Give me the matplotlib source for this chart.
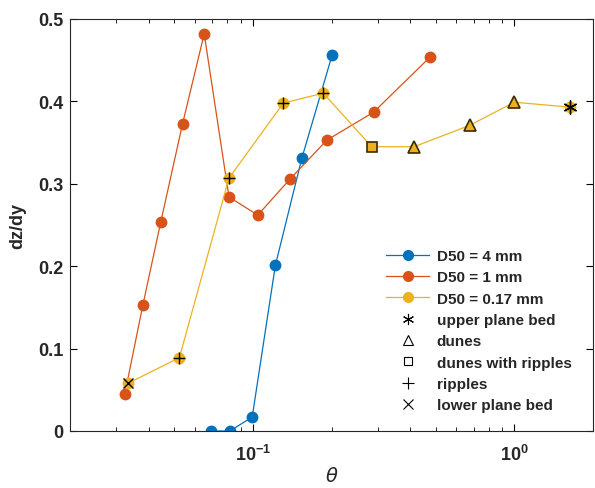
import matplotlib
matplotlib.use("Agg")
import matplotlib.pyplot as plt
from matplotlib.lines import Line2D

plt.rcParams['font.family'] = ['Liberation Sans', 'DejaVu Sans']

# D50 = 4 mm
theta_4 = [0.0693, 0.0818, 0.0995, 0.122, 0.154, 0.201]
dz_4 = [0.0, 0.0, 0.017, 0.201, 0.331, 0.456]

# D50 = 1 mm
theta_1 = [0.0324, 0.0380, 0.0445, 0.0539, 0.0652, 0.0811, 0.1045, 0.139, 0.192, 0.290, 0.477]
dz_1 = [0.045, 0.153, 0.254, 0.373, 0.482, 0.284, 0.262, 0.306, 0.353, 0.387, 0.454]

# D50 = 0.17 mm
theta_017 = [0.0334, 0.0524, 0.0811, 0.131, 0.186, 0.285, 0.414, 0.676, 1.0, 1.64]
dz_017 = [0.058, 0.089, 0.307, 0.398, 0.410, 0.345, 0.345, 0.371, 0.399, 0.393]
regime_017 = ['lower', 'ripples', 'ripples', 'ripples', 'ripples',
              'dunes_ripples', 'dunes', 'dunes', 'dunes', 'upper']

c_blue = '#0072BD'
c_orange = '#D95319'
c_yellow = '#EDB120'

fig = plt.figure(figsize=(5.95, 4.89), dpi=100)
ax = fig.add_axes([70/595, 57/489, 523/595, 412/489])

ax.plot(theta_4, dz_4, '-o', color=c_blue, lw=0.9, ms=7.5, mfc=c_blue, mec=c_blue)
ax.plot(theta_1, dz_1, '-o', color=c_orange, lw=0.9, ms=7.5, mfc=c_orange, mec=c_orange)
ax.plot(theta_017, dz_017, '-', color=c_yellow, lw=0.9)

for t, d, r in zip(theta_017, dz_017, regime_017):
    if r == 'ripples':
        ax.plot(t, d, 'o', color=c_yellow, ms=7.5)
        ax.plot(t, d, '+', color='k', ms=9, mew=1.0)
    elif r == 'lower':
        ax.plot(t, d, 'o', color=c_yellow, ms=7.5)
        ax.plot(t, d, 'x', color='k', ms=7, mew=1.0)
    elif r == 'upper':
        ax.plot(t, d, 'o', color=c_yellow, ms=7.5)
        ax.plot(t, d, color='k', ms=10, mew=1.0, marker=(6, 2, 0), ls='none')
    elif r == 'dunes':
        ax.plot(t, d, '^', color=c_yellow, ms=8.5, mec='#3a2a00', mew=1.2)
    elif r == 'dunes_ripples':
        ax.plot(t, d, 's', color=c_yellow, ms=7, mec='#3a2a00', mew=1.2)

ax.set_xscale('log')
ax.set_xlim(0.02, 2)
ax.set_ylim(0, 0.5)
ax.set_yticks([0, 0.1, 0.2, 0.3, 0.4, 0.5])
ax.set_yticklabels(['0', '0.1', '0.2', '0.3', '0.4', '0.5'])
ax.tick_params(which='both', direction='in', top=True, right=True, labelsize=13)
ax.tick_params(which='major', length=5, width=0.8)
ax.tick_params(which='minor', length=3, width=0.6)
ax.tick_params(axis='x', which='major', pad=9)
ax.tick_params(axis='y', which='major', pad=5)
for lab in ax.get_xticklabels() + ax.get_yticklabels():
    lab.set_fontweight('bold')
    lab.set_color('#262626')
for s in ax.spines.values():
    s.set_linewidth(0.8)
    s.set_color('#262626')

ax.set_ylabel('dz/dy', fontsize=13, fontweight='bold', color='#262626', labelpad=8)
ax.set_xlabel(r'$\theta$', fontsize=14, color='#262626', labelpad=2)

handles = [
    Line2D([], [], color=c_blue, marker='o', lw=0.9, ms=7),
    Line2D([], [], color=c_orange, marker='o', lw=0.9, ms=7),
    Line2D([], [], color=c_yellow, marker='o', lw=0.9, ms=7),
    Line2D([], [], color='k', marker=(6, 2, 0), ls='none', ms=8, mew=0.8),
    Line2D([], [], color='k', marker='^', ls='none', ms=7, mfc='none', mew=0.8),
    Line2D([], [], color='k', marker='s', ls='none', ms=6, mfc='none', mew=0.8),
    Line2D([], [], color='k', marker='+', ls='none', ms=9, mew=0.8),
    Line2D([], [], color='k', marker='x', ls='none', ms=7, mew=0.8),
]
labels = ['D50 = 4 mm', 'D50 = 1 mm', 'D50 = 0.17 mm', 'upper plane bed',
          'dunes', 'dunes with ripples', 'ripples', 'lower plane bed']
leg = ax.legend(handles, labels, loc='lower right', bbox_to_anchor=(0.985, 0.012),
                frameon=False, prop={'weight': 'bold', 'size': 11},
                handlelength=2.8, labelspacing=0.48, handletextpad=0.5)
for t in leg.get_texts():
    t.set_color('#262626')

fig.savefig('out.png', dpi=100)
